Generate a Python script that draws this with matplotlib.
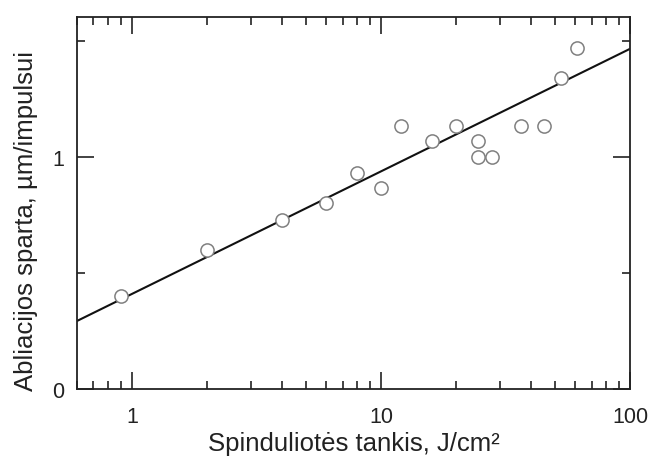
import matplotlib
matplotlib.use('Agg')
import matplotlib.pyplot as plt
from matplotlib.ticker import LogLocator, FixedLocator, FuncFormatter, NullFormatter

plt.rcParams['font.family'] = ['Liberation Sans', 'DejaVu Sans']

# Measured points: fluence (J/cm2) vs ablation rate (um/pulse)
fluence = [0.9, 2, 4, 6, 8, 10, 12, 16, 20, 24.5, 24.5, 28, 36.5, 45, 53, 61]
rate = [0.40, 0.60, 0.73, 0.80, 0.93, 0.866, 1.134, 1.069, 1.134, 1.069, 1.0, 1.0, 1.134, 1.134, 1.34, 1.47]

# fitted line end points
fit_x = [0.6, 100]
fit_y = [0.293, 1.466]

fig = plt.figure(figsize=(6.51, 4.6), dpi=100)
ax = fig.add_axes([0.118, 0.152, 0.850, 0.809])

ax.plot(fit_x, fit_y, color='#111111', linewidth=1.5, zorder=2)
ax.plot(fluence, rate, linestyle='none', marker='o', markersize=9.5,
        markerfacecolor='white', markeredgecolor='#808080', markeredgewidth=1.1, zorder=3)

ax.set_xscale('log')
ax.set_xlim(0.6, 100)
ax.set_ylim(0, 1.603)

ax.xaxis.set_major_locator(FixedLocator([1, 10, 100]))
ax.xaxis.set_major_formatter(FuncFormatter(lambda v, p: '%g' % v))
ax.xaxis.set_minor_locator(LogLocator(base=10, subs=range(2, 10), numticks=20))
ax.xaxis.set_minor_formatter(NullFormatter())
ax.yaxis.set_major_locator(FixedLocator([0, 1]))
ax.yaxis.set_minor_locator(FixedLocator([0.5, 1.5]))

for s in ax.spines.values():
    s.set_linewidth(1.3)
    s.set_color('#222222')

ax.tick_params(which='both', direction='in', top=True, right=True, width=1.2, colors='#222222',
               labelsize=15.5, labelcolor='#222222')
ax.tick_params(which='major', length=12, pad=9)
ax.tick_params(axis='x', which='major', pad=12)
ax.tick_params(which='minor', length=6)

ax.set_xlabel('Spinduliotės tankis, J/cm²', fontsize=18.5, color='#222222', labelpad=3)
ax.set_ylabel('Abliacijos sparta, µm/impulsui', fontsize=18.5, color='#222222')
ax.yaxis.set_label_coords(-0.07, 0.455)

fig.savefig('out.png', dpi=100)
